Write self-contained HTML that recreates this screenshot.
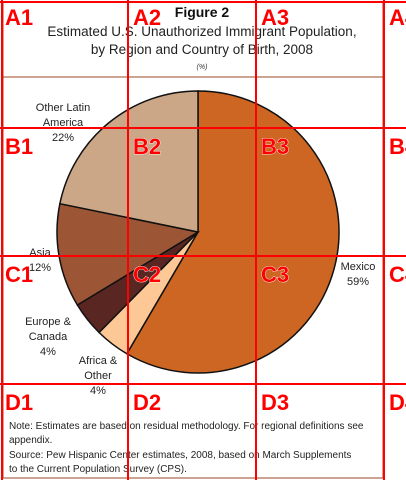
<!DOCTYPE html>
<html><head><meta charset="utf-8"><style>
html,body{margin:0;padding:0;background:#fff;}
body{width:406px;height:480px;overflow:hidden;position:relative;font-family:"Liberation Sans",sans-serif;}
svg{position:absolute;left:0;top:0;}
</style></head><body>
<svg width="406" height="480" viewBox="0 0 406 480">
  <rect x="3" y="2" width="380" height="476" fill="none" stroke="#9b4a25" stroke-width="1"/>
  <line x1="3" y1="77" x2="383" y2="77" stroke="#9b4a25" stroke-width="1"/>
  <text x="202" y="17" text-anchor="middle" font-size="14" font-weight="bold" fill="#111">Figure 2</text>
  <text x="202" y="36" text-anchor="middle" font-size="13.5" fill="#222">Estimated U.S. Unauthorized Immigrant Population,</text>
  <text x="202" y="54" text-anchor="middle" font-size="13.5" fill="#222">by Region and Country of Birth, 2008</text>
  <text x="202" y="69" text-anchor="middle" font-size="7" font-style="italic" fill="#333">(%)</text>
  <g id="pie"></g>
  <g font-size="11" fill="#222" text-anchor="middle">
    <text x="63" y="111"><tspan x="63">Other Latin</tspan><tspan x="63" dy="15">America</tspan><tspan x="63" dy="15">22%</tspan></text>
    <text x="40" y="256"><tspan x="40">Asia</tspan><tspan x="40" dy="15">12%</tspan></text>
    <text x="358" y="270"><tspan x="358">Mexico</tspan><tspan x="358" dy="15">59%</tspan></text>
    <text x="48" y="325"><tspan x="48">Europe &amp;</tspan><tspan x="48" dy="15">Canada</tspan><tspan x="48" dy="15">4%</tspan></text>
    <text x="98" y="364"><tspan x="98">Africa &amp;</tspan><tspan x="98" dy="15">Other</tspan><tspan x="98" dy="15">4%</tspan></text>
  </g>
  <g font-size="10" fill="#222">
    <text x="9" y="429"><tspan x="9">Note: Estimates are based on residual methodology. For regional definitions see</tspan><tspan x="9" dy="14">appendix.</tspan></text>
    <text x="9" y="458"><tspan x="9">Source: Pew Hispanic Center estimates, 2008, based on March Supplements</tspan><tspan x="9" dy="14">to the Current Population Survey (CPS).</tspan></text>
  </g>
  <g id="grid"></g>
</svg>
<script>
const categories = ["Mexico","Africa & Other","Europe & Canada","Asia","Other Latin America"];
const values = [59,4,4,12,22];
const colors = ["#cc6622","#fdc896","#5a2622","#9c5635","#cba788"];
const NS="http://www.w3.org/2000/svg";
const cx=198, cy=232, r=141;
const total=values.reduce((a,b)=>a+b,0);
const pie=document.getElementById('pie');
let a0=0;
function pt(a){return [cx+r*Math.sin(a), cy-r*Math.cos(a)];}
values.forEach((v,i)=>{
  const a1=a0+v/total*2*Math.PI;
  const p0=pt(a0), p1=pt(a1);
  const large=(a1-a0)>Math.PI?1:0;
  const path=document.createElementNS(NS,'path');
  path.setAttribute('d',`M${cx},${cy} L${p0[0]},${p0[1]} A${r},${r} 0 ${large} 1 ${p1[0]},${p1[1]} Z`);
  path.setAttribute('fill',colors[i]);
  path.setAttribute('stroke','#111');
  path.setAttribute('stroke-width','1.5');
  
  
  pie.appendChild(path);
  a0=a1;
});
const grid=document.getElementById('grid');
const rows=["A","B","C","D"];
[2,128,256,384].forEach(x=>{
  const l=document.createElementNS(NS,'line');
  l.setAttribute('x1',x);l.setAttribute('x2',x);l.setAttribute('y1',0);l.setAttribute('y2',480);
  l.setAttribute('stroke','#f00');l.setAttribute('stroke-width','2');
  
  
  grid.appendChild(l);
});
[2,128,256,384].forEach(y=>{
  const l=document.createElementNS(NS,'line');
  l.setAttribute('y1',y);l.setAttribute('y2',y);l.setAttribute('x1',0);l.setAttribute('x2',406);
  l.setAttribute('stroke','#f00');l.setAttribute('stroke-width','2');
  
  
  grid.appendChild(l);
});
rows.forEach((rw,ri)=>{
  [0,1,2,3].forEach(ci=>{
    const t=document.createElementNS(NS,'text');
    t.setAttribute('x',5+ci*128);t.setAttribute('y',[25,154,282,410][ri]);
    t.setAttribute('font-size','22');t.setAttribute('font-weight','bold');
    t.setAttribute('fill','#f00');t.setAttribute('stroke','#fff');t.setAttribute('stroke-width','0.8');
    t.setAttribute('paint-order','stroke');
    t.textContent=rw+(ci+1);
    
    
    grid.appendChild(t);
  });
});
</script>
</body></html>
